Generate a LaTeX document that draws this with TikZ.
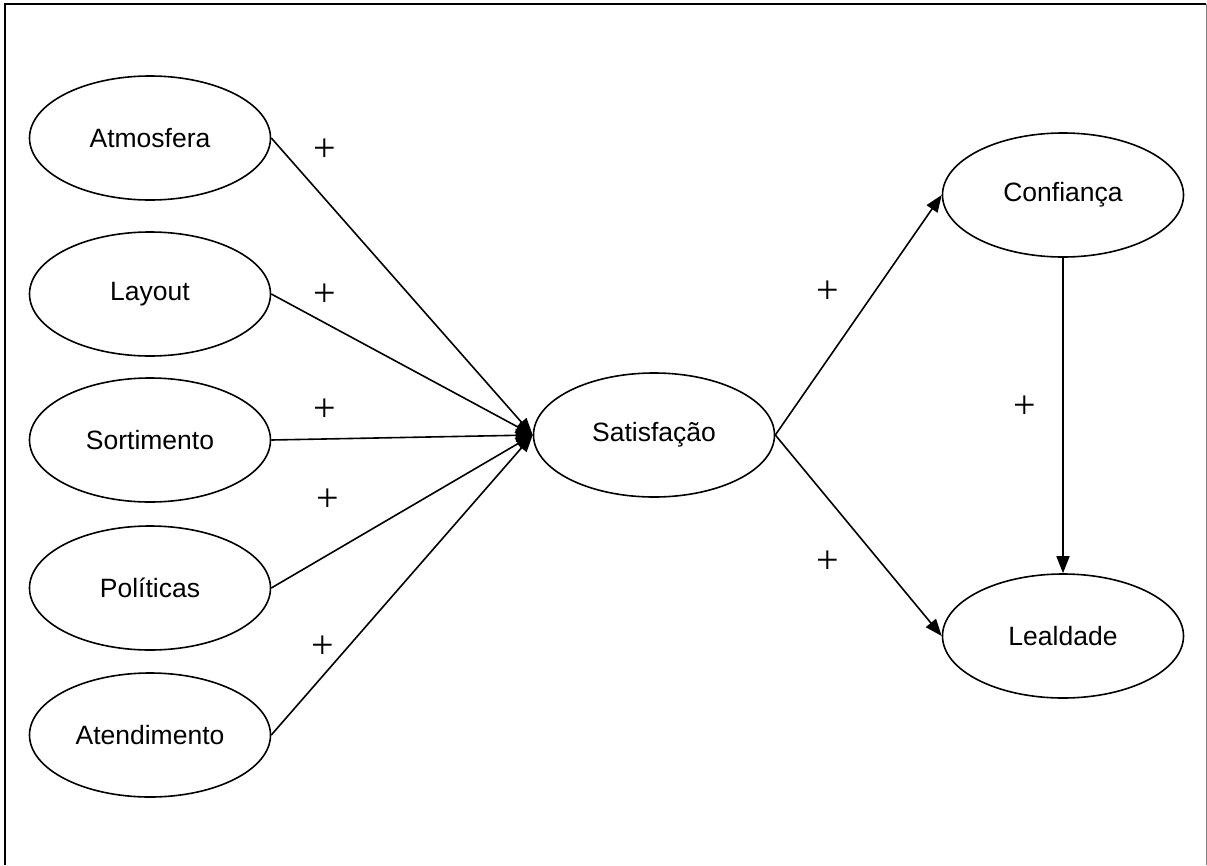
\documentclass[tikz,border=0pt]{standalone}
\usepackage{fontspec}
\setmainfont{Liberation Sans}
\newfontfamily\plusfont{Liberation Serif}
\usetikzlibrary{shapes.geometric,arrows.meta}
\begin{document}
\begin{tikzpicture}[x=1pt,y=-1pt,
  construct/.style={ellipse,draw,line width=1.6pt,minimum width=241pt,minimum height=124pt,
    inner sep=0pt,font=\fontsize{26.5}{30}\selectfont},
  link/.style={line width=1.6pt,-{Triangle[length=17pt,width=13pt]}},
  sign/.style={inner sep=0pt,font=\plusfont\fontsize{40}{40}\selectfont}]
\useasboundingbox (0,0) rectangle (1207,865);
% frame
\draw[line width=2pt] (5,865) -- (5,4) -- (1206,4);
\draw[line width=1pt,gray] (1206,4) -- (1206,865);
% antecedents
\node[construct] (atm) at (150,138) {Atmosfera};
\node[construct] (lay) at (150,294) {Layout};
\node[construct] (sor) at (150,440) {Sortimento};
\node[construct] (pol) at (150,588) {Políticas};
\node[construct] (ate) at (150,735) {Atendimento};
% outcomes
\node[construct] (sat) at (654,435) {Satisfação};
\node[construct] (con) at (1063,195) {Confiança};
\node[construct] (lea) at (1063,636) {Lealdade};
% paths
\draw[link] (atm.east) -- (sat.west);
\draw[link] (lay.east) -- (sat.west);
\draw[link] (sor.east) -- (sat.west);
\draw[link] (pol.east) -- (sat.west);
\draw[link] (ate.east) -- (sat.west);
\draw[link] (sat.east) -- (con.west);
\draw[link] (sat.east) -- (lea.west);
\draw[link] (con.south) -- (lea.north);
% signs
\node[sign] (s1) at (325,150) {+};
\node[sign] (s2) at (325,295) {+};
\node[sign] (s3) at (325,410) {+};
\node[sign] (s4) at (328,500) {+};
\node[sign] (s5) at (323,647) {+};
\node[sign] (s6) at (828,292) {+};
\node[sign] (s7) at (828,562) {+};
\node[sign] (s8) at (1025,407) {+};
\end{tikzpicture}
\end{document}
